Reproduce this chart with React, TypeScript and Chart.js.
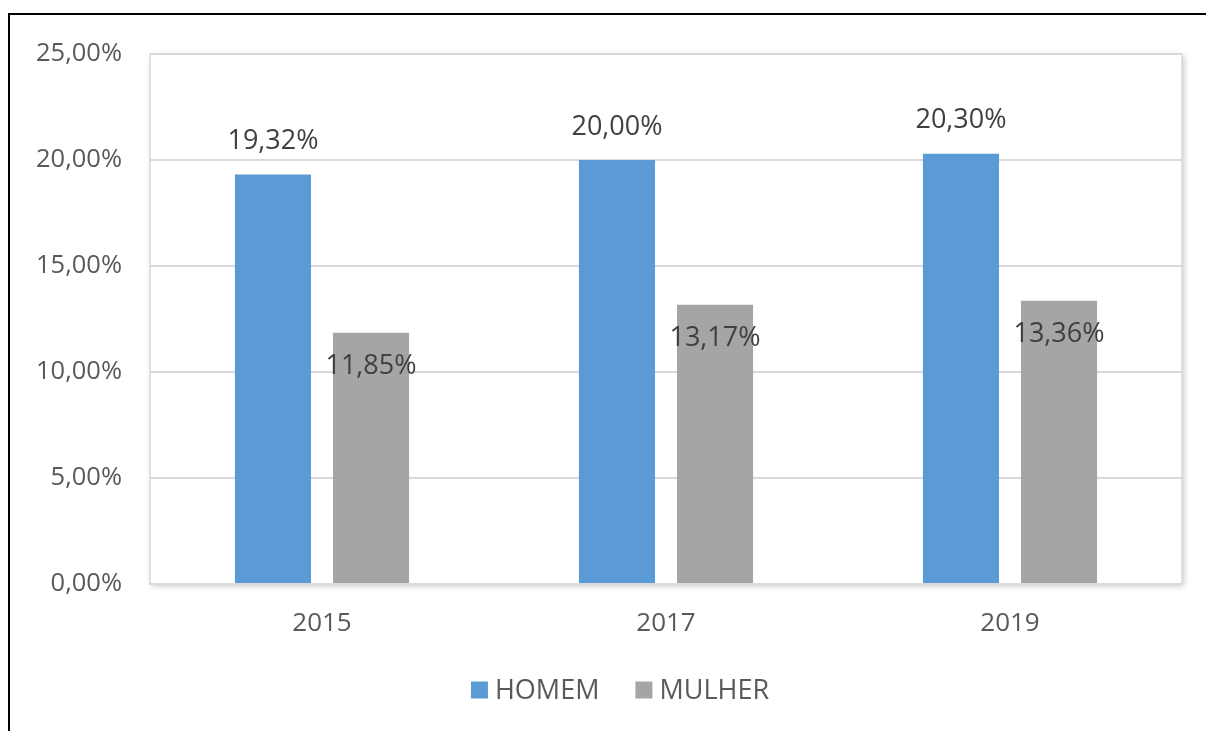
import React, { useEffect, useRef } from "react";
import { Chart, registerables } from "chart.js";

Chart.register(...registerables);

const categories = ["2015", "2017", "2019"];
const homem = [19.32, 20.0, 20.3];
const mulher = [11.85, 13.17, 13.36];
const seriesNames = ["HOMEM", "MULHER"];
const seriesColors = ["#5b9bd5", "#a5a5a5"];
const yTicks = [0, 5, 10, 15, 20, 25];

const FONT = "'Open Sans', sans-serif";
const fmt = (v: number) => v.toFixed(2).replace(".", ",") + "%";

const plotFrame = {
  id: "plotFrame",
  beforeDraw(chart: any) {
    const { ctx, chartArea: a } = chart;
    ctx.save();
    ctx.shadowColor = "rgba(0,0,0,0.22)";
    ctx.shadowBlur = 6;
    ctx.shadowOffsetX = 2;
    ctx.shadowOffsetY = 2;
    ctx.fillStyle = "#ffffff";
    ctx.fillRect(a.left, a.top, a.right - a.left, a.bottom - a.top);
    ctx.restore();
    ctx.save();
    ctx.strokeStyle = "#d9d9d9";
    ctx.lineWidth = 1.5;
    ctx.strokeRect(a.left, a.top, a.right - a.left, a.bottom - a.top);
    ctx.restore();
  },
};

const dataLabels = {
  id: "dataLabels",
  afterDatasetsDraw(chart: any) {
    const { ctx } = chart;
    ctx.save();
    ctx.font = `27px ${FONT}`;
    ctx.fillStyle = "#404040";
    ctx.textAlign = "center";
    ctx.textBaseline = "middle";
    chart.data.datasets.forEach((ds: any, di: number) => {
      const meta = chart.getDatasetMeta(di);
      meta.data.forEach((bar: any, i: number) => {
        const v = ds.data[i];
        const y = di === 0 ? bar.y - 33 : bar.y + 34;
        ctx.fillText(fmt(v), bar.x, y);
      });
    });
    ctx.restore();
  },
};

const customLegend = {
  id: "customLegend",
  afterDraw(chart: any) {
    const { ctx, chartArea: a } = chart;
    ctx.save();
    ctx.font = `27px ${FONT}`;
    ctx.textBaseline = "middle";
    ctx.textAlign = "left";
    const box = 17;
    const gapText = 7;
    const gapItem = 36;
    const widths = seriesNames.map((n) => box + gapText + ctx.measureText(n).width);
    const total = widths.reduce((s, w) => s + w, 0) + gapItem * (seriesNames.length - 1);
    const cx = (chart.width + (a.left - (chart.width - a.right))) / 2 - 46;
    let x = cx - total / 2;
    const y = a.bottom + 106;
    seriesNames.forEach((n, i) => {
      ctx.fillStyle = seriesColors[i];
      ctx.fillRect(x, y - box / 2, box, box);
      ctx.fillStyle = "#595959";
      ctx.fillText(n, x + box + gapText, y + 1);
      x += widths[i] + gapItem;
    });
    ctx.restore();
  },
};

export default function App() {
  const ref = useRef<HTMLCanvasElement | null>(null);
  useEffect(() => {
    if (!ref.current) return;
    const chart = new Chart(ref.current, {
      type: "bar",
      data: {
        labels: categories,
        datasets: [
          {
            label: seriesNames[0],
            data: homem,
            backgroundColor: seriesColors[0],
            categoryPercentage: 0.57,
            barPercentage: 0.776,
          },
          {
            label: seriesNames[1],
            data: mulher,
            backgroundColor: seriesColors[1],
            categoryPercentage: 0.57,
            barPercentage: 0.776,
          },
        ],
      },
      options: {
        animation: false,
        responsive: false,
        maintainAspectRatio: false,
        layout: { padding: { left: 0, top: 54, right: 24, bottom: 63 } },
        plugins: {
          tooltip: { enabled: false },
          legend: { display: false },
        },
        scales: {
          x: {
            grid: { display: false },
            border: { color: "#d9d9d9", width: 2 },
            ticks: {
              color: "#595959",
              font: { family: FONT, size: 26 },
              padding: 16,
            },
            afterFit: (s: any) => {
              s.height = 84;
            },
          },
          y: {
            min: 0,
            max: 25,
            afterBuildTicks: (s: any) => {
              s.ticks = yTicks.map((v) => ({ value: v }));
            },
            grid: { color: "#d9d9d9", lineWidth: 2, drawTicks: false },
            border: { display: false },
            ticks: {
              color: "#595959",
              font: { family: FONT, size: 25.5 },
              padding: 28,
              callback: (v: any) => fmt(Number(v)),
            },
            afterFit: (s: any) => {
              s.width = 150;
            },
          },
        },
      },
      plugins: [plotFrame, dataLabels, customLegend],
    });
    return () => chart.destroy();
  }, []);

  return (
    <div style={{ position: "fixed", left: 0, top: 0, width: 1206, height: 731, background: "#fff", overflow: "hidden" }}>
      <div
        style={{
          position: "absolute",
          left: 8,
          top: 13,
          width: 1300,
          height: 900,
          border: "2px solid #000",
        }}
      />
      <canvas ref={ref} width={1206} height={731} style={{ position: "absolute", left: 0, top: 0 }} />
    </div>
  );
}
